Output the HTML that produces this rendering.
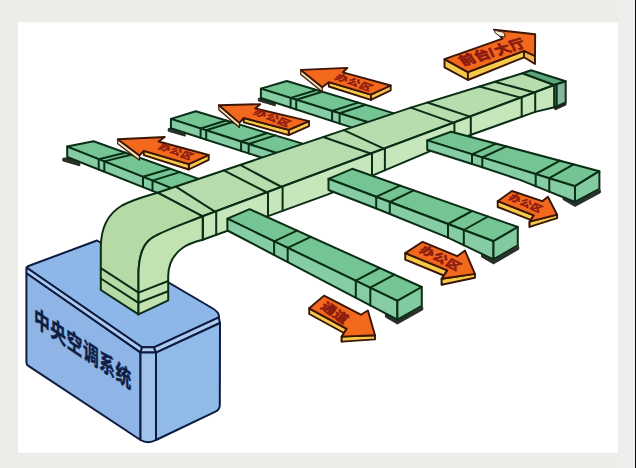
<!DOCTYPE html>
<html><head><meta charset="utf-8"><title>Central AC</title>
<style>html,body{margin:0;padding:0;background:#ecece9;font-family:"Liberation Sans",sans-serif;}svg{display:block}</style>
</head><body>
<svg width="636" height="468" viewBox="0 0 636 468">
<rect x="0" y="0" width="636" height="468" fill="#ecece9"/>
<rect x="618" y="0" width="18" height="468" fill="#eeeeed"/>
<rect x="18" y="22.3" width="600" height="430.5" fill="#ffffff"/>
<rect x="635" y="0" width="1" height="468" fill="#0a0a0a"/>
<polygon points="62.8,158.3 66.8,157.8 79.8,163.1 79.8,165.9 62.8,160.9" fill="#2a2f2a" stroke="#1a1f1a" stroke-width="0.8" stroke-linejoin="round" /><polygon points="168.2,128.6 172.2,128.1 185.2,133.4 185.2,136.2 168.2,131.2" fill="#2a2f2a" stroke="#1a1f1a" stroke-width="0.8" stroke-linejoin="round" /><polygon points="258.3,98.3 262.3,97.8 275.3,103.1 275.3,105.9 258.3,100.9" fill="#2a2f2a" stroke="#1a1f1a" stroke-width="0.8" stroke-linejoin="round" />
<polygon points="67.2,146.6 179.5,191.4 207.1,181.9 93.5,141.3" fill="#74c494" stroke="#0a2e15" stroke-width="2.0" stroke-linejoin="round" />
<polygon points="67.2,146.6 179.5,191.4 179.5,201.6 67.2,157.0" fill="#86cca4" stroke="#0a2e15" stroke-width="2.0" stroke-linejoin="round" />
<polyline points="125.4,152.7 98.7,159.2 98.7,169.5" fill="none" stroke="#0a2e15" stroke-width="2.0" stroke-linejoin="round" stroke-linecap="round"/>
<polyline points="131.0,154.7 104.3,161.4 104.3,171.7" fill="none" stroke="#0a2e15" stroke-width="2.0" stroke-linejoin="round" stroke-linecap="round"/>
<polyline points="170.2,168.7 143.0,176.8 143.0,187.1" fill="none" stroke="#0a2e15" stroke-width="2.0" stroke-linejoin="round" stroke-linecap="round"/>
<polyline points="179.8,172.1 152.5,180.6 152.5,190.9" fill="none" stroke="#0a2e15" stroke-width="2.0" stroke-linejoin="round" stroke-linecap="round"/>
<polygon points="170.9,118.9 284.4,155.5 311.6,146.4 195.8,111.3" fill="#74c494" stroke="#0a2e15" stroke-width="2.0" stroke-linejoin="round" />
<polygon points="170.9,118.9 284.4,155.5 284.4,164.9 170.9,128.3" fill="#86cca4" stroke="#0a2e15" stroke-width="2.0" stroke-linejoin="round" />
<polyline points="226.1,120.5 200.6,128.5 200.6,137.9" fill="none" stroke="#0a2e15" stroke-width="2.0" stroke-linejoin="round" stroke-linecap="round"/>
<polyline points="231.8,122.2 206.2,130.3 206.2,139.7" fill="none" stroke="#0a2e15" stroke-width="2.0" stroke-linejoin="round" stroke-linecap="round"/>
<polyline points="267.4,133.0 241.1,141.5 241.1,150.9" fill="none" stroke="#0a2e15" stroke-width="2.0" stroke-linejoin="round" stroke-linecap="round"/>
<polyline points="275.2,135.4 248.7,144.0 248.7,153.4" fill="none" stroke="#0a2e15" stroke-width="2.0" stroke-linejoin="round" stroke-linecap="round"/>
<polygon points="260.9,88.6 376.1,124.8 402.4,115.9 286.8,81.0" fill="#74c494" stroke="#0a2e15" stroke-width="2.0" stroke-linejoin="round" />
<polygon points="260.9,88.6 376.1,124.8 376.1,135.4 260.9,98.0" fill="#86cca4" stroke="#0a2e15" stroke-width="2.0" stroke-linejoin="round" />
<polyline points="316.6,90.0 290.6,97.9 290.6,107.6" fill="none" stroke="#0a2e15" stroke-width="2.0" stroke-linejoin="round" stroke-linecap="round"/>
<polyline points="322.2,91.7 296.2,99.7 296.2,109.4" fill="none" stroke="#0a2e15" stroke-width="2.0" stroke-linejoin="round" stroke-linecap="round"/>
<polyline points="358.2,102.6 332.1,111.0 332.1,121.1" fill="none" stroke="#0a2e15" stroke-width="2.0" stroke-linejoin="round" stroke-linecap="round"/>
<polyline points="365.7,104.8 339.6,113.3 339.6,123.5" fill="none" stroke="#0a2e15" stroke-width="2.0" stroke-linejoin="round" stroke-linecap="round"/>
<polygon points="188.8,164.2 208.7,155.0 208.7,159.9 188.8,169.5" fill="#f6c84a" stroke="#3b1606" stroke-width="1.9" stroke-linejoin="round" />
<polygon points="143.8,150.8 188.8,164.2 188.8,169.5 143.8,155.1" fill="#f6c84a" stroke="#3b1606" stroke-width="1.9" stroke-linejoin="round" />
<polygon points="117.7,139.2 139.4,155.6 139.4,160.2 117.7,143.8" fill="#f7e2b4" stroke="#3b1606" stroke-width="1.2" stroke-linejoin="round" />
<polygon points="117.7,139.2 164.8,137.0 158.5,141.5 208.7,155.0 188.8,164.2 143.8,150.8 139.4,155.6" fill="#f2681d" stroke="#3b1606" stroke-width="1.9" stroke-linejoin="round" /><text transform="matrix(1.045,0.361,-0.620,0.720,157.62,148.53)" x="0 10.53 21.05" y="0" font-family="'Liberation Sans','Noto Sans CJK SC',sans-serif" font-size="10" font-weight="bold" fill="#8a1a10" stroke="#8a1a10" stroke-width="0.45" stroke-linejoin="round">办公区</text>
<polygon points="288.7,129.8 309.0,121.2 309.0,126.1 288.7,135.1" fill="#f6c84a" stroke="#3b1606" stroke-width="1.9" stroke-linejoin="round" />
<polygon points="243.7,118.0 288.7,129.8 288.7,135.1 243.7,122.3" fill="#f6c84a" stroke="#3b1606" stroke-width="1.9" stroke-linejoin="round" />
<polygon points="218.8,105.2 239.4,122.9 239.4,127.5 218.8,109.8" fill="#f7e2b4" stroke="#3b1606" stroke-width="1.2" stroke-linejoin="round" />
<polygon points="218.8,105.2 260.2,104.2 255.3,108.5 309.0,121.2 288.7,129.8 243.7,118.0 239.4,122.9" fill="#f2681d" stroke="#3b1606" stroke-width="1.9" stroke-linejoin="round" /><text transform="matrix(1.135,0.427,-0.620,0.720,252.47,113.80)" x="0 10.53 21.06" y="0" font-family="'Liberation Sans','Noto Sans CJK SC',sans-serif" font-size="10" font-weight="bold" fill="#8a1a10" stroke="#8a1a10" stroke-width="0.45" stroke-linejoin="round">办公区</text>
<polygon points="370.9,94.6 390.7,85.5 390.7,90.4 370.9,99.9" fill="#f6c84a" stroke="#3b1606" stroke-width="1.9" stroke-linejoin="round" />
<polygon points="328.8,82.2 370.9,94.6 370.9,99.9 328.8,86.5" fill="#f6c84a" stroke="#3b1606" stroke-width="1.9" stroke-linejoin="round" />
<polygon points="300.8,69.9 322.2,87.2 322.2,91.8 300.8,74.5" fill="#f7e2b4" stroke="#3b1606" stroke-width="1.2" stroke-linejoin="round" />
<polygon points="300.8,69.9 347.5,67.9 342.9,72.3 390.7,85.5 370.9,94.6 328.8,82.2 322.2,87.2" fill="#f2681d" stroke="#3b1606" stroke-width="1.9" stroke-linejoin="round" /><text transform="matrix(1.140,0.394,-0.620,0.720,333.94,78.86)" x="0 10.53 21.05" y="0" font-family="'Liberation Sans','Noto Sans CJK SC',sans-serif" font-size="10" font-weight="bold" fill="#8a1a10" stroke="#8a1a10" stroke-width="0.45" stroke-linejoin="round">办公区</text>
<path d="M28.5,266 L97,240.5 L212,308 Q219.8,312.5 218.8,317.4 L154,347.3 L142,347.3 L27.5,268.2 Q26.4,267 28.5,266 Z" fill="#8cb7e8" stroke="#0d1b3e" stroke-width="2.0" stroke-linejoin="round"/>
<polygon points="26.4,267.5 142.0,347.3 140.5,352.6 26.4,273.3" fill="#adcaf0" stroke="#0d1b3e" stroke-width="2.0" stroke-linejoin="round" />
<path d="M26.4,273.3 L140.5,352.6 L140.5,440 L28,365.6 Q26.4,364.4 26.4,362 Z" fill="#8fb5e7" stroke="#0d1b3e" stroke-width="2.0" stroke-linejoin="round"/>
<polygon points="142.0,347.3 154.0,347.3 156.0,352.6 140.5,352.6" fill="#adcaf0" stroke="#0d1b3e" stroke-width="2.0" stroke-linejoin="round" />
<path d="M140.5,352.6 L156,352.6 L156,440 Q148,444.5 140.5,440 Z" fill="#a0c3ec" stroke="#0d1b3e" stroke-width="2.0" stroke-linejoin="round"/>
<polygon points="154.0,347.3 218.8,317.4 220.0,323.0 156.0,352.6" fill="#adcaf0" stroke="#0d1b3e" stroke-width="2.0" stroke-linejoin="round" />
<path d="M156,352.6 L220,323 L219.8,405 Q219.8,409.5 216,411.3 L156,440 Z" fill="#90bbe8" stroke="#0d1b3e" stroke-width="2.0" stroke-linejoin="round"/>
<text transform="matrix(1.581,1.051,0,2.320,33.99,324.76)" x="0 10.31 20.62 30.93 41.24 51.55" y="0" font-family="'Liberation Sans','Noto Sans CJK SC',sans-serif" font-size="10" font-weight="bold" fill="#0e1c44" stroke="#0e1c44" stroke-width="0.22" stroke-linejoin="round">中央空调系统</text>
<polygon points="157.5,192.7 410.8,107.6 522.5,73.3 554.4,85.0 202.7,216.3" fill="#b7dcad" stroke="#0a2e15" stroke-width="2.0" stroke-linejoin="round" />
<polygon points="202.7,216.3 554.4,85.0 554.4,107.3 535.2,111.9 454.4,140.8 328.0,194.4 202.7,239.8" fill="#c7e6bb" stroke="#0a2e15" stroke-width="2.0" stroke-linejoin="round" />
<polyline points="157.5,192.7 202.7,217.5 202.7,239.8" fill="none" stroke="#0a2e15" stroke-width="2.0" stroke-linejoin="round" stroke-linecap="round"/>
<polyline points="175.8,186.6 216.2,212.4 216.2,234.9" fill="none" stroke="#0a2e15" stroke-width="2.0" stroke-linejoin="round" stroke-linecap="round"/>
<polyline points="223.8,170.4 268.0,193.0 268.0,216.1" fill="none" stroke="#0a2e15" stroke-width="2.0" stroke-linejoin="round" stroke-linecap="round"/>
<polyline points="240.2,164.9 282.6,187.5 282.6,210.8" fill="none" stroke="#0a2e15" stroke-width="2.0" stroke-linejoin="round" stroke-linecap="round"/>
<polyline points="323.3,137.0 372.0,154.0 372.0,175.7" fill="none" stroke="#0a2e15" stroke-width="2.0" stroke-linejoin="round" stroke-linecap="round"/>
<polyline points="343.8,130.1 384.9,149.2 384.9,170.3" fill="none" stroke="#0a2e15" stroke-width="2.0" stroke-linejoin="round" stroke-linecap="round"/>
<polyline points="410.8,107.6 454.4,123.1 454.4,140.8" fill="none" stroke="#0a2e15" stroke-width="2.0" stroke-linejoin="round" stroke-linecap="round"/>
<polyline points="427.4,102.5 470.8,116.9 470.8,134.9" fill="none" stroke="#0a2e15" stroke-width="2.0" stroke-linejoin="round" stroke-linecap="round"/>
<polyline points="479.4,86.5 521.7,97.9 521.7,116.7" fill="none" stroke="#0a2e15" stroke-width="2.0" stroke-linejoin="round" stroke-linecap="round"/>
<polyline points="494.8,81.8 535.2,92.8 535.2,111.9" fill="none" stroke="#0a2e15" stroke-width="2.0" stroke-linejoin="round" stroke-linecap="round"/>
<polygon points="554.4,107.3 566.0,102.4 566.0,105.0 555.0,110.0" fill="#222" stroke="#222" stroke-width="0.8" stroke-linejoin="round" />
<polygon points="522.5,73.3 531.0,70.3 565.7,81.2 554.4,85.0" fill="#5aa57c" stroke="#0a2e15" stroke-width="2.0" stroke-linejoin="round" />
<polygon points="554.4,85.0 565.7,81.2 565.7,102.4 554.4,107.3" fill="#86b5a0" stroke="#0a2e15" stroke-width="2.0" stroke-linejoin="round" />
<polyline points="556.6,84.6 556.6,106.2" fill="none" stroke="#0a2e15" stroke-width="2.2" stroke-linejoin="round" stroke-linecap="round"/>
<path d="M157.5,192.7 C148,195.5 134,199 122,205.5 C110,212.5 101,226 100.8,247 L100.8,290 L138.5,314.4 L138.5,272 C139.5,249 146,240.5 156,235.7 C168,229 190,221.5 202.7,216.3 Z" fill="#b6daa6" stroke="#0a2e15" stroke-width="2.0" stroke-linejoin="round"/>
<path d="M202.7,216.3 C190,221.5 168,229 156,235.7 C146,240.5 139.5,249 138.5,272 L138.5,314.4 L168.2,300.3 L168.2,276 C168.5,262 174,254 182.5,248 C188,244 196,241.5 202.7,239.8 Z" fill="#c2e2b2" stroke="#0a2e15" stroke-width="2.0" stroke-linejoin="round"/>
<polyline points="100.8,268.2 138.5,292.6 168.2,281.0" fill="none" stroke="#0a2e15" stroke-width="2.0" stroke-linejoin="round" stroke-linecap="round"/>
<polyline points="100.8,278.5 138.5,302.8 168.2,291.3" fill="none" stroke="#0a2e15" stroke-width="2.0" stroke-linejoin="round" stroke-linecap="round"/>
<polygon points="563.0,196.0 575.0,203.0 600.4,189.8 600.4,192.8 575.0,206.5 563.0,199.5" fill="#2b2f2b" stroke="#1a1f1a" stroke-width="0.8" stroke-linejoin="round" /><polygon points="427.2,140.4 575.0,186.2 599.4,171.2 451.1,131.7" fill="#74c494" stroke="#0a2e15" stroke-width="2.0" stroke-linejoin="round" />
<polygon points="427.2,140.4 575.0,186.2 575.0,202.0 520.0,179.9 482.3,167.2 427.2,149.8" fill="#86cca4" stroke="#0a2e15" stroke-width="2.0" stroke-linejoin="round" />
<polygon points="575.0,186.2 599.4,171.2 599.4,188.8 575.0,202.0" fill="#82caa0" stroke="#0a2e15" stroke-width="2.0" stroke-linejoin="round" />
<polyline points="496.1,143.7 472.0,154.3 472.0,163.9" fill="none" stroke="#0a2e15" stroke-width="2.0" stroke-linejoin="round" stroke-linecap="round"/>
<polyline points="506.4,146.4 482.3,157.5 482.3,167.2" fill="none" stroke="#0a2e15" stroke-width="2.0" stroke-linejoin="round" stroke-linecap="round"/>
<polyline points="560.0,160.7 535.7,174.0 535.7,186.2" fill="none" stroke="#0a2e15" stroke-width="2.0" stroke-linejoin="round" stroke-linecap="round"/>
<polyline points="573.6,164.3 549.3,178.2 549.3,191.7" fill="none" stroke="#0a2e15" stroke-width="2.0" stroke-linejoin="round" stroke-linecap="round"/>
<polygon points="481.5,253.4 493.5,260.4 518.8,246.3 518.8,249.3 493.5,263.9 481.5,256.9" fill="#2b2f2b" stroke="#1a1f1a" stroke-width="0.8" stroke-linejoin="round" /><polygon points="328.5,178.8 493.5,241.2 517.8,227.0 352.2,168.8" fill="#74c494" stroke="#0a2e15" stroke-width="2.0" stroke-linejoin="round" />
<polygon points="328.5,178.8 493.5,241.2 493.5,259.4 447.4,237.4 376.9,208.7 328.5,190.0" fill="#86cca4" stroke="#0a2e15" stroke-width="2.0" stroke-linejoin="round" />
<polygon points="493.5,241.2 517.8,227.0 517.8,245.3 493.5,259.4" fill="#82caa0" stroke="#0a2e15" stroke-width="2.0" stroke-linejoin="round" />
<polyline points="400.1,185.6 376.2,196.8 376.2,208.4" fill="none" stroke="#0a2e15" stroke-width="2.0" stroke-linejoin="round" stroke-linecap="round"/>
<polyline points="413.7,190.4 389.8,202.0 389.8,214.0" fill="none" stroke="#0a2e15" stroke-width="2.0" stroke-linejoin="round" stroke-linecap="round"/>
<polyline points="472.1,211.0 448.0,224.0 448.0,237.7" fill="none" stroke="#0a2e15" stroke-width="2.0" stroke-linejoin="round" stroke-linecap="round"/>
<polyline points="488.0,216.5 463.8,230.0 463.8,245.2" fill="none" stroke="#0a2e15" stroke-width="2.0" stroke-linejoin="round" stroke-linecap="round"/>
<polygon points="385.4,313.6 397.4,320.6 422.8,306.8 422.8,309.8 397.4,324.1 385.4,317.1" fill="#2b2f2b" stroke="#1a1f1a" stroke-width="0.8" stroke-linejoin="round" /><polygon points="227.4,218.7 397.4,300.8 421.8,287.0 249.7,209.2" fill="#74c494" stroke="#0a2e15" stroke-width="2.0" stroke-linejoin="round" />
<polygon points="227.4,218.7 397.4,300.8 397.4,319.6 227.4,230.5" fill="#86cca4" stroke="#0a2e15" stroke-width="2.0" stroke-linejoin="round" />
<polygon points="397.4,300.8 421.8,287.0 421.8,305.8 397.4,319.6" fill="#82caa0" stroke="#0a2e15" stroke-width="2.0" stroke-linejoin="round" />
<polyline points="297.0,230.6 274.1,241.3 274.1,255.0" fill="none" stroke="#0a2e15" stroke-width="2.0" stroke-linejoin="round" stroke-linecap="round"/>
<polyline points="310.7,236.8 287.7,247.8 287.7,262.1" fill="none" stroke="#0a2e15" stroke-width="2.0" stroke-linejoin="round" stroke-linecap="round"/>
<polyline points="379.7,268.0 355.8,280.7 355.8,297.8" fill="none" stroke="#0a2e15" stroke-width="2.0" stroke-linejoin="round" stroke-linecap="round"/>
<polyline points="394.4,274.6 370.3,287.7 370.3,305.4" fill="none" stroke="#0a2e15" stroke-width="2.0" stroke-linejoin="round" stroke-linecap="round"/>
<polygon points="497.7,201.2 533.8,215.4 533.8,221.2 497.7,207.0" fill="#f6c84a" stroke="#3b1606" stroke-width="1.9" stroke-linejoin="round" />
<polygon points="533.8,215.4 529.6,221.7 529.6,226.9 533.8,221.2" fill="#f6c84a" stroke="#3b1606" stroke-width="1.9" stroke-linejoin="round" />
<polygon points="529.6,221.7 557.1,214.7 557.1,218.2 529.6,226.9" fill="#f6c84a" stroke="#3b1606" stroke-width="1.9" stroke-linejoin="round" />
<polygon points="497.7,201.2 511.9,191.0 542.3,201.2 547.9,196.7 557.1,214.7 529.6,221.7 533.8,215.4" fill="#f2681d" stroke="#3b1606" stroke-width="1.9" stroke-linejoin="round" /><text transform="matrix(1.007,0.437,-0.590,0.740,508.12,199.03)" x="0 10.53 21.05" y="0" font-family="'Liberation Sans','Noto Sans CJK SC',sans-serif" font-size="10" font-weight="bold" fill="#8a1a10" stroke="#8a1a10" stroke-width="0.45" stroke-linejoin="round">办公区</text>
<polygon points="405.2,253.1 447.3,270.4 447.3,277.0 405.2,259.7" fill="#f6c84a" stroke="#3b1606" stroke-width="1.9" stroke-linejoin="round" />
<polygon points="447.3,270.4 441.7,278.8 441.7,284.8 447.3,277.0" fill="#f6c84a" stroke="#3b1606" stroke-width="1.9" stroke-linejoin="round" />
<polygon points="441.7,278.8 474.9,273.9 474.9,277.7 441.7,284.8" fill="#f6c84a" stroke="#3b1606" stroke-width="1.9" stroke-linejoin="round" />
<polygon points="405.2,253.1 422.6,241.8 457.2,256.2 465.0,250.6 474.9,273.9 441.7,278.8 447.3,270.4" fill="#f2681d" stroke="#3b1606" stroke-width="1.9" stroke-linejoin="round" /><text transform="matrix(1.244,0.636,-0.760,0.860,418.39,251.39)" x="0 10.53 21.06" y="0" font-family="'Liberation Sans','Noto Sans CJK SC',sans-serif" font-size="10" font-weight="bold" fill="#8a1a10" stroke="#8a1a10" stroke-width="0.45" stroke-linejoin="round">办公区</text>
<polygon points="309.2,308.3 346.7,328.8 346.7,334.5 309.2,314.0" fill="#f6c84a" stroke="#3b1606" stroke-width="1.9" stroke-linejoin="round" />
<polygon points="346.7,328.8 341.7,336.6 341.7,341.6 346.7,334.5" fill="#f6c84a" stroke="#3b1606" stroke-width="1.9" stroke-linejoin="round" />
<polygon points="341.7,336.6 375.0,335.2 375.0,339.4 341.7,341.6" fill="#f6c84a" stroke="#3b1606" stroke-width="1.9" stroke-linejoin="round" />
<polygon points="309.2,308.3 324.0,295.6 360.8,314.7 367.9,310.5 375.0,335.2 341.7,336.6 346.7,328.8" fill="#f2681d" stroke="#3b1606" stroke-width="1.9" stroke-linejoin="round" /><text transform="matrix(1.176,0.833,-0.850,0.920,319.89,307.63)" x="0 10.2" y="0" font-family="'Liberation Sans','Noto Sans CJK SC',sans-serif" font-size="10" font-weight="bold" fill="#8a1a10" stroke="#8a1a10" stroke-width="0.45" stroke-linejoin="round">通道</text>
<polygon points="444.5,59.2 467.9,72.2 467.9,80.0 444.5,67.3" fill="#f6c84a" stroke="#3b1606" stroke-width="1.9" stroke-linejoin="round" />
<polygon points="467.9,72.2 524.0,50.8 524.0,57.3 467.9,80.0" fill="#f6c84a" stroke="#3b1606" stroke-width="1.9" stroke-linejoin="round" />
<polygon points="524.0,50.8 535.0,56.0 535.0,64.0 524.0,57.3" fill="#f4b24c" stroke="#3b1606" stroke-width="1.9" stroke-linejoin="round" />
<polygon points="444.5,59.2 502.6,38.6 494.0,29.7 535.2,34.3 535.0,56.0 524.0,50.8 467.9,72.2" fill="#f2681d" stroke="#3b1606" stroke-width="1.9" stroke-linejoin="round" />
<polygon points="494.6,30.3 503.8,32.3 505.2,37.0 499.6,36.2 495.0,32.8" fill="#f8ecd0" stroke="#3b1606" stroke-width="0.9" stroke-linejoin="round" /><text transform="matrix(1.432,-0.430,0.830,1.120,462.99,65.80)" x="0 10.31 20.52 24.61 34.92" y="0" font-family="'Liberation Sans','Noto Sans CJK SC',sans-serif" font-size="10" font-weight="bold" fill="#8a1a10" stroke="#8a1a10" stroke-width="0.55" stroke-linejoin="round">前台/大厅</text>
</svg>
</body></html>
